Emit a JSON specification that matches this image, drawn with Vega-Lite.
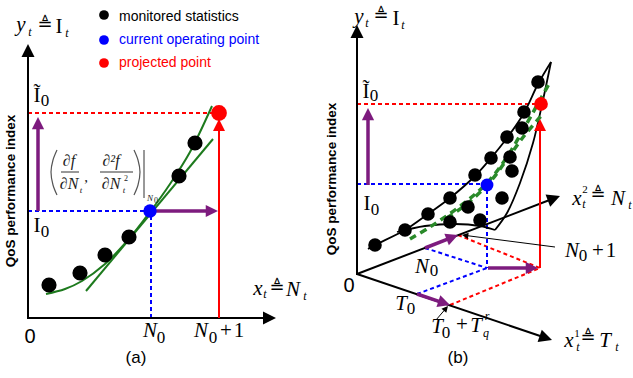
{
"$schema": "https://vega.github.io/schema/vega-lite/v6.json",
"width": 633, "height": 378,
"autosize": {"type": "fit", "contains": "padding"},
"padding": 0,
"background": "white",
"config": {"view": {"stroke": null}},
"resolve": {"scale": {"color": "independent", "size": "independent", "strokeWidth": "independent"}},
"datasets": {
"segs": [
{"k":"red","x":28,"y":113,"x2":216,"y2":113},
{"k":"red","x":357,"y":104,"x2":536,"y2":104},
{"k":"red","x":458,"y":235,"x2":540,"y2":268},
{"k":"red","x":450,"y":305,"x2":540,"y2":268},
{"k":"blue","x":28,"y":211,"x2":146,"y2":211},
{"k":"blue","x":151,"y":216,"x2":151,"y2":318},
{"k":"blue","x":357,"y":184,"x2":482,"y2":184},
{"k":"blue","x":487,"y":190,"x2":487,"y2":268},
{"k":"blue","x":425,"y":248,"x2":487,"y2":268},
{"k":"blue","x":417,"y":294,"x2":487,"y2":268},
{"k":"bar","x":61,"y":172,"x2":79,"y2":172},
{"k":"bar","x":100,"y":172,"x2":133,"y2":172},
{"k":"bar","x":144,"y":150,"x2":144,"y2":198}
],
"paths": [
{"k":"green","id":"ga","i":0,"x":46,"y":294},{"k":"green","id":"ga","i":1,"x":65,"y":289},{"k":"green","id":"ga","i":2,"x":82,"y":281},{"k":"green","id":"ga","i":3,"x":105,"y":264},{"k":"green","id":"ga","i":4,"x":128,"y":240},{"k":"green","id":"ga","i":5,"x":150,"y":212},{"k":"green","id":"ga","i":6,"x":170,"y":184},{"k":"green","id":"ga","i":7,"x":190,"y":152},{"k":"green","id":"ga","i":8,"x":212,"y":106},
{"k":"green","id":"gt","i":0,"x":86,"y":291},{"k":"green","id":"gt","i":1,"x":213,"y":139},
{"k":"surf","id":"s1","i":0,"x":368,"y":249},{"k":"surf","id":"s1","i":1,"x":375,"y":245},{"k":"surf","id":"s1","i":2,"x":405,"y":230},{"k":"surf","id":"s1","i":3,"x":428,"y":214},{"k":"surf","id":"s1","i":4,"x":450,"y":198},{"k":"surf","id":"s1","i":5,"x":475,"y":176},{"k":"surf","id":"s1","i":6,"x":491,"y":158},{"k":"surf","id":"s1","i":7,"x":507,"y":138},{"k":"surf","id":"s1","i":8,"x":524,"y":113},{"k":"surf","id":"s1","i":9,"x":538,"y":84},{"k":"surf","id":"s1","i":10,"x":551,"y":62},
{"k":"surf","id":"s2","i":0,"x":551,"y":62},{"k":"surf","id":"s2","i":1,"x":543,"y":100},{"k":"surf","id":"s2","i":2,"x":533,"y":143},{"k":"surf","id":"s2","i":3,"x":520,"y":183},{"k":"surf","id":"s2","i":4,"x":507,"y":213},{"k":"surf","id":"s2","i":5,"x":495,"y":230},
{"k":"surf","id":"s3","i":0,"x":397,"y":232},{"k":"surf","id":"s3","i":1,"x":425,"y":226},{"k":"surf","id":"s3","i":2,"x":455,"y":224},{"k":"surf","id":"s3","i":3,"x":480,"y":226},{"k":"surf","id":"s3","i":4,"x":495,"y":230},
{"k":"gdash","id":"gd1","i":0,"x":410,"y":239},{"k":"gdash","id":"gd1","i":1,"x":430,"y":227},{"k":"gdash","id":"gd1","i":2,"x":463,"y":204},{"k":"gdash","id":"gd1","i":3,"x":487,"y":183},{"k":"gdash","id":"gd1","i":4,"x":507,"y":157},{"k":"gdash","id":"gd1","i":5,"x":527,"y":123},{"k":"gdash","id":"gd1","i":6,"x":540,"y":100},{"k":"gdash","id":"gd1","i":7,"x":550,"y":82},
{"k":"gdash","id":"gd2","i":0,"x":447,"y":218},{"k":"gdash","id":"gd2","i":1,"x":468,"y":203},{"k":"gdash","id":"gd2","i":2,"x":490,"y":182},{"k":"gdash","id":"gd2","i":3,"x":508,"y":158},{"k":"gdash","id":"gd2","i":4,"x":524,"y":136},{"k":"gdash","id":"gd2","i":5,"x":541,"y":116},
{"k":"paren","id":"pl","i":0,"x":57,"y":150},{"k":"paren","id":"pl","i":1,"x":53,"y":160},{"k":"paren","id":"pl","i":2,"x":51,"y":172},{"k":"paren","id":"pl","i":3,"x":53,"y":185},{"k":"paren","id":"pl","i":4,"x":57,"y":195},
{"k":"paren","id":"pr","i":0,"x":134,"y":150},{"k":"paren","id":"pr","i":1,"x":138,"y":160},{"k":"paren","id":"pr","i":2,"x":140,"y":172},{"k":"paren","id":"pr","i":3,"x":138,"y":185},{"k":"paren","id":"pr","i":4,"x":134,"y":195}
],
"arrows": [
{"k":"axis","x":28,"y":44,"tx":28,"ty":319},
{"k":"axis","x":276,"y":318,"tx":27,"ty":318},
{"k":"purple","x":38,"y":117,"tx":38,"ty":211},
{"k":"purple","x":218,"y":211,"tx":156,"ty":211},
{"k":"red","x":219,"y":119,"tx":219,"ty":318},
{"k":"axis","x":357,"y":25,"tx":357,"ty":275},
{"k":"axis","x":560,"y":196,"tx":357,"ty":274},
{"k":"axis","x":552,"y":340,"tx":357,"ty":274},
{"k":"purple","x":368,"y":108,"tx":368,"ty":185},
{"k":"purple","x":538,"y":268,"tx":488,"ty":268},
{"k":"purple","x":458,"y":235,"tx":425,"ty":248},
{"k":"purple","x":450,"y":305,"tx":417,"ty":294},
{"k":"red","x":540,"y":119,"tx":540,"ty":268},
{"k":"ptr","x":462,"y":235,"tx":555,"ty":247},
{"k":"ptr","x":448,"y":306,"tx":436,"ty":320}
],
"dots": [
{"k":"black_a","x":49,"y":285},{"k":"black_a","x":80,"y":273},{"k":"black_a","x":105,"y":255},{"k":"black_a","x":129,"y":237},{"k":"black_a","x":179,"y":176},{"k":"black_a","x":195,"y":143},
{"k":"blue_a","x":150,"y":211},
{"k":"red_a","x":219,"y":113},
{"k":"leg_k","x":104,"y":15},{"k":"leg_b","x":104,"y":40},{"k":"leg_r","x":104,"y":63},
{"k":"black_b","x":375,"y":245},{"k":"black_b","x":405,"y":230},{"k":"black_b","x":428,"y":214},{"k":"black_b","x":450,"y":198},{"k":"black_b","x":475,"y":175},{"k":"black_b","x":491,"y":158},{"k":"black_b","x":507,"y":137},{"k":"black_b","x":524,"y":112},{"k":"black_b","x":538,"y":82},
{"k":"black_b","x":450,"y":222},{"k":"black_b","x":468,"y":207},{"k":"black_b","x":480,"y":220},{"k":"black_b","x":502,"y":198},{"k":"black_b","x":512,"y":171},{"k":"black_b","x":510,"y":157},{"k":"black_b","x":522,"y":128},
{"k":"blue_b","x":487,"y":185},
{"k":"red_b","x":541,"y":104}
],
"texts": [
{"k":"mI21","t":"y","x":21,"y":31},{"k":"mI21","t":"x","x":258,"y":295},{"k":"mI21","t":"N","x":293,"y":296},{"k":"mI21","t":"N","x":150,"y":337},{"k":"mI21","t":"N","x":201,"y":337},
{"k":"mI21","t":"y","x":359,"y":23},{"k":"mI21","t":"N","x":422,"y":273},{"k":"mI21","t":"T","x":401,"y":310},{"k":"mI21","t":"T","x":437,"y":333},{"k":"mI21","t":"T","x":476,"y":332},{"k":"mI21","t":"N","x":572,"y":257},{"k":"mI21","t":"x","x":577,"y":205},{"k":"mI21","t":"N","x":618,"y":205},{"k":"mI21","t":"x","x":569,"y":347},{"k":"mI21","t":"T","x":605,"y":347},
{"k":"mR21","t":"I","x":59,"y":33},{"k":"mR21","t":"Ĩ","x":37,"y":102},{"k":"mR21","t":"I","x":37,"y":232},{"k":"mR21","t":"+","x":226,"y":337},{"k":"mR21","t":"1","x":239,"y":337},
{"k":"mR21","t":"I","x":396,"y":25},{"k":"mR21","t":"Ĩ","x":366,"y":98},{"k":"mR21","t":"I","x":367,"y":210},{"k":"mR21","t":"+","x":462,"y":331},{"k":"mR21","t":"+","x":598,"y":257},{"k":"mR21","t":"1","x":611,"y":257},
{"k":"mI12","t":"t","x":30,"y":36},{"k":"mI12","t":"t","x":67,"y":37},{"k":"mI12","t":"t","x":265,"y":298},{"k":"mI12","t":"t","x":305,"y":300},
{"k":"mI12","t":"t","x":367,"y":27},{"k":"mI12","t":"t","x":403,"y":29},{"k":"mI12","t":"t","x":584,"y":208},{"k":"mI12","t":"t","x":630,"y":209},{"k":"mI12","t":"t","x":578,"y":351},{"k":"mI12","t":"t","x":617,"y":351},{"k":"mI12","t":"q","x":486,"y":337},{"k":"mI12","t":"r","x":487,"y":320},
{"k":"mR17","t":"0","x":161,"y":343},{"k":"mR17","t":"0","x":213,"y":343},{"k":"mR17","t":"0","x":45,"y":106},{"k":"mR17","t":"0","x":45,"y":237},
{"k":"mR17","t":"0","x":374,"y":101},{"k":"mR17","t":"0","x":375,"y":215},{"k":"mR17","t":"0","x":434,"y":276},{"k":"mR17","t":"0","x":411,"y":314},{"k":"mR17","t":"0","x":446,"y":338},{"k":"mR17","t":"0","x":583,"y":261},
{"k":"mR11","t":"1","x":577,"y":337},{"k":"mR11","t":"2","x":585,"y":193},
{"k":"eq","t":"≜","x":45,"y":30},{"k":"eq","t":"≜","x":277,"y":293},{"k":"eq","t":"≜","x":381,"y":21},{"k":"eq","t":"≜","x":598,"y":200},{"k":"eq","t":"≜","x":588,"y":343},
{"k":"s20","t":"0","x":30,"y":343},{"k":"s20","t":"0","x":349,"y":292},
{"k":"cap","t":"(a)","x":136,"y":363},{"k":"cap","t":"(b)","x":458,"y":363},
{"k":"leg","t":"monitored statistics","x":119,"y":20.5},{"k":"leg","t":"current operating point","x":119,"y":43.5},{"k":"leg","t":"projected point","x":119,"y":66.5},
{"k":"qos","t":"QoS performance index","x":11,"y":191},{"k":"qos","t":"QoS performance index","x":332,"y":179},
{"k":"fI16","t":"∂f","x":69,"y":166},{"k":"fI16","t":"∂²f","x":111,"y":166},{"k":"fI16","t":"∂N","x":69,"y":189},{"k":"fI16","t":"∂N","x":111,"y":189},
{"k":"fR15","t":",","x":86,"y":182},
{"k":"fI9","t":"t","x":81,"y":193},{"k":"fI9","t":"t","x":124,"y":193},{"k":"fI9","t":"N","x":150,"y":201},
{"k":"fR8","t":"2","x":126,"y":181},{"k":"fR8","t":"0","x":156,"y":203}
]
},
"encoding": {
"x": {"field":"x","type":"quantitative","scale":{"domain":[0,633],"nice":false,"zero":false},"axis":null},
"y": {"field":"y","type":"quantitative","scale":{"domain":[0,378],"nice":false,"zero":false,"reverse":true},"axis":null}
},
"layer": [
{"data":{"name":"segs"},"transform":[{"filter":"datum.k!='bar'"}],
 "mark":{"type":"rule","strokeWidth":2,"strokeDash":[4,3]},
 "encoding":{"x2":{"field":"x2"},"y2":{"field":"y2"},
  "color":{"field":"k","type":"nominal","scale":{"domain":["red","blue"],"range":["#ff0000","#0000ff"]},"legend":null}}},
{"data":{"name":"segs"},"transform":[{"filter":"datum.k=='bar'"}],
 "mark":{"type":"rule","strokeWidth":1,"color":"#333333"},
 "encoding":{"x2":{"field":"x2"},"y2":{"field":"y2"}}},
{"data":{"name":"paths"},"transform":[{"filter":"datum.k=='green'"}],
 "mark":{"type":"line","interpolate":"catmull-rom","color":"#1d7a1d","strokeWidth":2},
 "encoding":{"detail":{"field":"id"},"order":{"field":"i","type":"quantitative"}}},
{"data":{"name":"paths"},"transform":[{"filter":"datum.k=='surf'"}],
 "mark":{"type":"line","interpolate":"catmull-rom","color":"#000000","strokeWidth":1.8},
 "encoding":{"detail":{"field":"id"},"order":{"field":"i","type":"quantitative"}}},
{"data":{"name":"paths"},"transform":[{"filter":"datum.k=='gdash'"}],
 "mark":{"type":"line","interpolate":"catmull-rom","color":"#2a8a2a","strokeWidth":3.5,"strokeDash":[7,5]},
 "encoding":{"detail":{"field":"id"},"order":{"field":"i","type":"quantitative"}}},
{"data":{"name":"paths"},"transform":[{"filter":"datum.k=='paren'"}],
 "mark":{"type":"line","interpolate":"catmull-rom","color":"#555555","strokeWidth":1.2},
 "encoding":{"detail":{"field":"id"},"order":{"field":"i","type":"quantitative"}}},
{"data":{"name":"arrows"},
 "transform":[
  {"calculate":"datum.x-datum.tx","as":"dx"},
  {"calculate":"datum.y-datum.ty","as":"dy"},
  {"calculate":"sqrt(datum.dx*datum.dx+datum.dy*datum.dy)","as":"len"},
  {"calculate":"datum.k=='ptr'?4:7","as":"off"},
  {"calculate":"datum.x-datum.dx/datum.len*datum.off","as":"sx"},
  {"calculate":"datum.y-datum.dy/datum.len*datum.off","as":"sy"}],
 "mark":{"type":"rule"},
 "encoding":{
  "x":{"field":"sx","type":"quantitative","scale":{"domain":[0,633],"nice":false,"zero":false},"axis":null},
  "y":{"field":"sy","type":"quantitative","scale":{"domain":[0,378],"nice":false,"zero":false,"reverse":true},"axis":null},
  "x2":{"field":"tx"},"y2":{"field":"ty"},
  "color":{"field":"k","type":"nominal","scale":{"domain":["axis","purple","red","ptr"],"range":["#000000","#7d1b7e","#ff0000","#000000"]},"legend":null},
  "strokeWidth":{"field":"k","type":"nominal","scale":{"type":"ordinal","domain":["axis","purple","red","ptr"],"range":[2,3.5,2,1]},"legend":null}}},
{"data":{"name":"arrows"},
 "transform":[
  {"calculate":"(atan2(datum.x-datum.tx, datum.ty-datum.y)*180/PI+360)%360","as":"ang"}],
 "mark":{"type":"point","shape":"M0,0L0.5,1L-0.5,1Z","filled":true,"opacity":1,"strokeWidth":0},
 "encoding":{
  "color":{"field":"k","type":"nominal","scale":{"domain":["axis","purple","red","ptr"],"range":["#000000","#7d1b7e","#ff0000","#000000"]},"legend":null},
  "size":{"field":"k","type":"nominal","scale":{"type":"ordinal","domain":["axis","purple","red","ptr"],"range":[676,600,576,160]},"legend":null},
  "angle":{"field":"ang","type":"quantitative","scale":null}}},
{"data":{"name":"dots"},
 "mark":{"type":"point","shape":"circle","filled":true,"opacity":1,"strokeWidth":0},
 "encoding":{
  "color":{"field":"k","type":"nominal","scale":{"domain":["black_a","blue_a","red_a","leg_k","leg_b","leg_r","black_b","blue_b","red_b"],"range":["#000000","#0000ff","#ff0000","#000000","#0000ff","#ff0000","#000000","#0000ff","#ff0000"]},"legend":null},
  "size":{"field":"k","type":"nominal","scale":{"type":"ordinal","domain":["black_a","blue_a","red_a","leg_k","leg_b","leg_r","black_b","blue_b","red_b"],"range":[230,180,250,95,95,95,185,165,190]},"legend":null}}},
{"data":{"name":"texts"},"transform":[{"filter":"datum.k=='mI21'"}],
 "mark":{"type":"text","font":"Liberation Serif","fontStyle":"italic","fontSize":21,"align":"center","baseline":"alphabetic","color":"#000000"},
 "encoding":{"text":{"field":"t"}}},
{"data":{"name":"texts"},"transform":[{"filter":"datum.k=='mR21'"}],
 "mark":{"type":"text","font":"Liberation Serif","fontSize":21,"align":"center","baseline":"alphabetic","color":"#000000"},
 "encoding":{"text":{"field":"t"}}},
{"data":{"name":"texts"},"transform":[{"filter":"datum.k=='mI12'"}],
 "mark":{"type":"text","font":"Liberation Serif","fontStyle":"italic","fontSize":12,"align":"center","baseline":"alphabetic","color":"#000000"},
 "encoding":{"text":{"field":"t"}}},
{"data":{"name":"texts"},"transform":[{"filter":"datum.k=='mR17'"}],
 "mark":{"type":"text","font":"Liberation Serif","fontSize":17,"align":"center","baseline":"alphabetic","color":"#000000"},
 "encoding":{"text":{"field":"t"}}},
{"data":{"name":"texts"},"transform":[{"filter":"datum.k=='mR11'"}],
 "mark":{"type":"text","font":"Liberation Serif","fontSize":11,"align":"center","baseline":"alphabetic","color":"#000000"},
 "encoding":{"text":{"field":"t"}}},
{"data":{"name":"texts"},"transform":[{"filter":"datum.k=='eq'"}],
 "mark":{"type":"text","font":"DejaVu Sans","fontSize":18,"align":"center","baseline":"alphabetic","color":"#000000"},
 "encoding":{"text":{"field":"t"}}},
{"data":{"name":"texts"},"transform":[{"filter":"datum.k=='s20'"}],
 "mark":{"type":"text","font":"Liberation Sans","fontSize":20,"align":"center","baseline":"alphabetic","color":"#000000"},
 "encoding":{"text":{"field":"t"}}},
{"data":{"name":"texts"},"transform":[{"filter":"datum.k=='cap'"}],
 "mark":{"type":"text","font":"Liberation Sans","fontSize":17,"align":"center","baseline":"alphabetic","color":"#000000"},
 "encoding":{"text":{"field":"t"}}},
{"data":{"name":"texts"},"transform":[{"filter":"datum.k=='leg'"}],
 "mark":{"type":"text","font":"Liberation Sans","fontSize":14,"align":"left","baseline":"alphabetic"},
 "encoding":{"text":{"field":"t"},
  "color":{"field":"t","type":"nominal","scale":{"domain":["monitored statistics","current operating point","projected point"],"range":["#000000","#0000ff","#ff0000"]},"legend":null}}},
{"data":{"name":"texts"},"transform":[{"filter":"datum.k=='qos'"}],
 "mark":{"type":"text","font":"Liberation Sans","fontWeight":"bold","fontSize":13.5,"angle":270,"align":"center","baseline":"middle","color":"#000000"},
 "encoding":{"text":{"field":"t"}}},
{"data":{"name":"texts"},"transform":[{"filter":"datum.k=='fI16'"}],
 "mark":{"type":"text","font":"Liberation Serif","fontStyle":"italic","fontSize":16,"align":"center","baseline":"alphabetic","color":"#222222"},
 "encoding":{"text":{"field":"t"}}},
{"data":{"name":"texts"},"transform":[{"filter":"datum.k=='fR15'"}],
 "mark":{"type":"text","font":"Liberation Serif","fontSize":15,"align":"center","baseline":"alphabetic","color":"#222222"},
 "encoding":{"text":{"field":"t"}}},
{"data":{"name":"texts"},"transform":[{"filter":"datum.k=='fI9'"}],
 "mark":{"type":"text","font":"Liberation Serif","fontStyle":"italic","fontSize":9,"align":"center","baseline":"alphabetic","color":"#222222"},
 "encoding":{"text":{"field":"t"}}},
{"data":{"name":"texts"},"transform":[{"filter":"datum.k=='fR8'"}],
 "mark":{"type":"text","font":"Liberation Serif","fontSize":8,"align":"center","baseline":"alphabetic","color":"#222222"},
 "encoding":{"text":{"field":"t"}}}
]
}
